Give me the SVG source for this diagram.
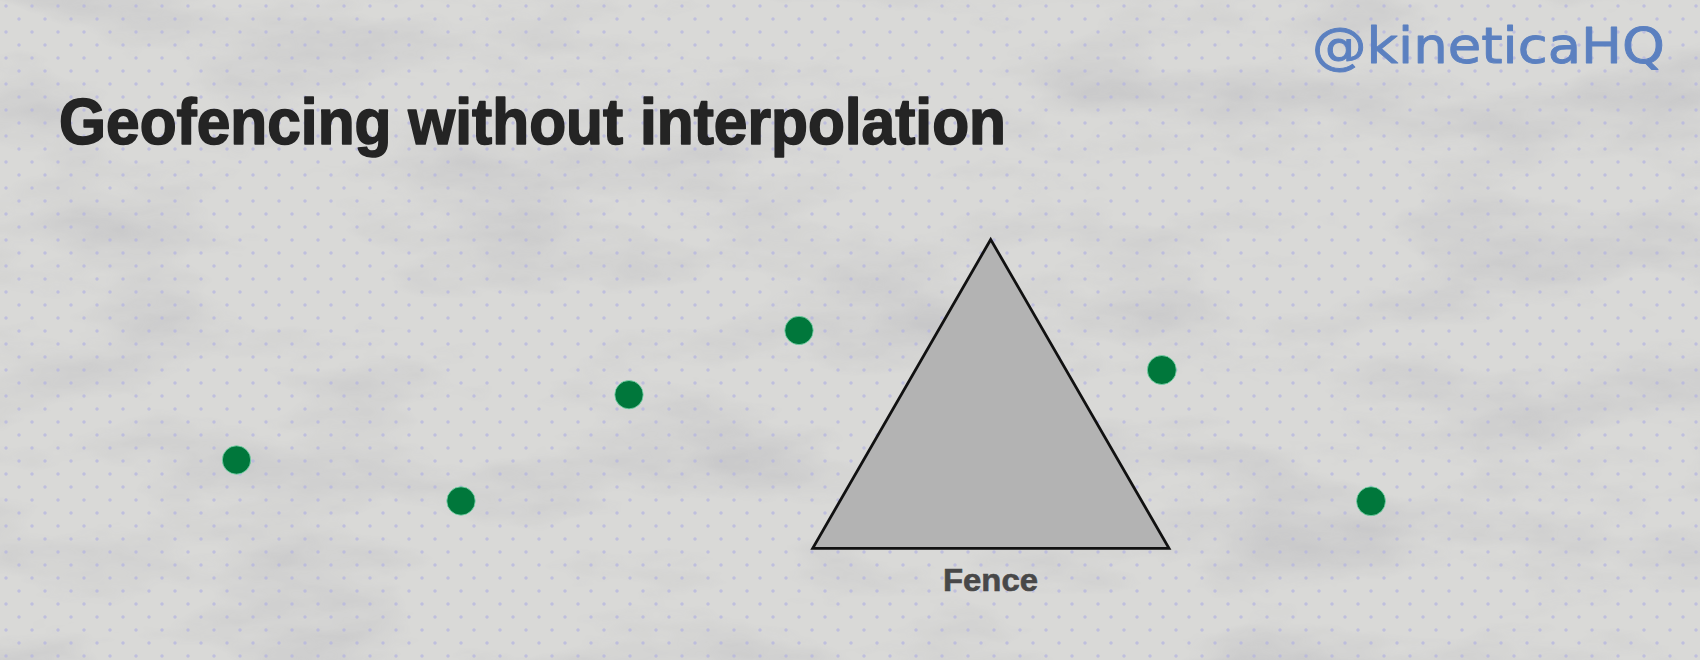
<svg xmlns="http://www.w3.org/2000/svg" width="1700" height="660" viewBox="0 0 1700 660">
  <defs>
    <filter id="paper" x="0" y="0" width="100%" height="100%">
      <feTurbulence type="fractalNoise" baseFrequency="0.005 0.014" numOctaves="5" seed="7" result="n"/>
      <feColorMatrix in="n" type="matrix" values="0 0 0 0 0.5  0 0 0 0 0.5  0 0 0 0 0.52  0 0 0 2 -0.9" result="c"/>
      <feComposite in="c" in2="SourceGraphic" operator="in"/>
    </filter>
    <pattern id="dots" width="26" height="26" patternUnits="userSpaceOnUse">
      <circle cx="6" cy="6" r="1.7" fill="#b4b4e2" opacity="0.7"/>
      <circle cx="19" cy="19" r="1.7" fill="#b4b4e2" opacity="0.7"/>
    </pattern>
  </defs>
  <style>
    .dot { fill: #00773b; stroke: #7fd8b0; stroke-width: 0.8; }
    .fence { fill: #b3b3b3; stroke: #111; stroke-width: 2.8; stroke-linejoin: miter; }
  </style>
  <g id="background">
    <rect width="1700" height="660" fill="#d9d9d7"/>
    <rect width="1700" height="660" fill="#000" filter="url(#paper)" opacity="0.6"/>
    <rect width="1700" height="660" fill="url(#dots)"/>
  </g>
  <g id="title">
    <text x="59" y="144" font-family="Liberation Sans, Arial, sans-serif" font-weight="bold" font-size="64" fill="#242424" stroke="#242424" stroke-width="1.6" stroke-linejoin="round" textLength="947" lengthAdjust="spacingAndGlyphs">Geofencing without interpolation</text>
  </g>
  <g id="logo">
    <text x="1312" y="63" font-family="DejaVu Sans, sans-serif" font-size="50" fill="#5b80c0" stroke="#5b80c0" stroke-width="0.9" stroke-linejoin="round" textLength="353" lengthAdjust="spacingAndGlyphs">@kineticaHQ</text>
  </g>
  <g id="fence">
    <polygon class="fence" points="990.7,239.5 812.7,548.3 1169,548.3"/>
    <text x="990.5" y="591" text-anchor="middle" font-family="Liberation Sans, Arial, sans-serif" font-weight="bold" font-size="32" fill="#484848" stroke="#484848" stroke-width="0.6" textLength="95" lengthAdjust="spacingAndGlyphs">Fence</text>
  </g>
  <g id="point-1"><circle class="dot" cx="236.5" cy="460" r="14.2"/></g>
  <g id="point-2"><circle class="dot" cx="461" cy="501" r="14.2"/></g>
  <g id="point-3"><circle class="dot" cx="629" cy="394.7" r="14.2"/></g>
  <g id="point-4"><circle class="dot" cx="799" cy="330.5" r="14.2"/></g>
  <g id="point-5"><circle class="dot" cx="1161.8" cy="370" r="14.5"/></g>
  <g id="point-6"><circle class="dot" cx="1371" cy="501.2" r="14.5"/></g>
  <g id="connectors"/>
</svg>
